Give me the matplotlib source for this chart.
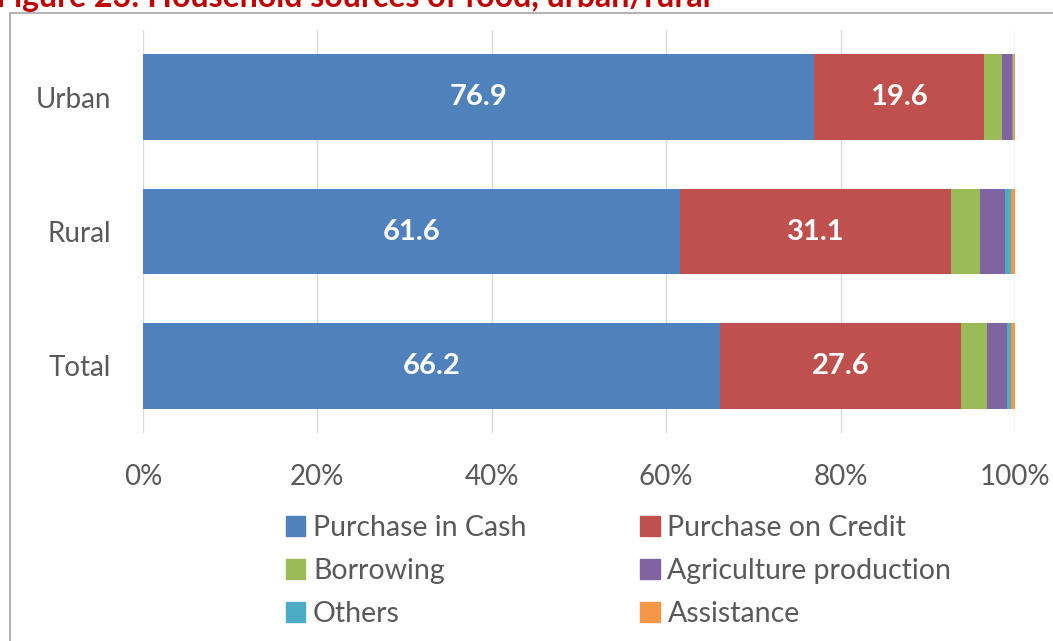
import numpy as np
import matplotlib.pyplot as plt
from matplotlib.patches import Rectangle, Patch
from matplotlib.ticker import FuncFormatter

plt.rcParams['font.family'] = ['Lato', 'DejaVu Sans']

areas = ["Urban", "Rural", "Total"]
series = ["Purchase in Cash", "Purchase on Credit", "Borrowing",
          "Agriculture production", "Others", "Assistance"]
cash = [76.9, 61.6, 66.2]
credit = [19.6, 31.1, 27.6]
borrowing = [2.0, 3.3, 3.0]
agri = [1.1, 2.8, 2.3]
others = [0.2, 0.7, 0.4]
assistance = [0.2, 0.5, 0.5]
colors = ["#4F81BD", "#C0504D", "#9BBB59", "#8064A2", "#4BACC6", "#F79646"]

data = np.array([cash, credit, borrowing, agri, others, assistance])
data = data / data.sum(axis=0) * 100

fig = plt.figure(figsize=(10.53, 6.41), dpi=100)
fig.patches.append(Rectangle((10/1053, -0.1), 1.2, 1 - 13/641 + 0.1,
                             transform=fig.transFigure, fill=False,
                             edgecolor="#A6A6A6", linewidth=1.2))
# title is cropped at the top in the reference
fig.text(-0.004, 1 - 7/641, "Figure 23: Household sources of food, urban/rural",
         color="#C00000", fontsize=23, fontweight="bold", va="baseline")

ax = fig.add_axes([143/1053, 1 - 433/641, 872/1053, 403/641])
y = np.arange(len(areas))
left = np.zeros(len(areas))
for i, vals in enumerate(data):
    ax.barh(y, vals, left=left, height=0.64, color=colors[i], label=series[i], zorder=3)
    left += vals

for i, v in enumerate(cash):
    ax.text(data[0][i] / 2, y[i], f"{v:.1f}", color="white", fontsize=21,
            fontweight="bold", ha="center", va="center", zorder=4)
for i, v in enumerate(credit):
    ax.text(data[0][i] + data[1][i] / 2, y[i], f"{v:.1f}", color="white", fontsize=21,
            fontweight="bold", ha="center", va="center", zorder=4)

ax.set_xlim(0, 100)
ax.set_ylim(2.5, -0.5)
ax.set_yticks(y)
ax.set_yticklabels(areas)
ax.set_xticks(np.arange(0, 101, 20))
ax.xaxis.set_major_formatter(FuncFormatter(lambda v, p: f"{v:.0f}%"))
ax.tick_params(length=0, labelsize=20, labelcolor="#595959")
ax.tick_params(axis="x", pad=22)
ax.tick_params(axis="y", pad=23)
ax.grid(axis="x", color="#D9D9D9", linewidth=1, zorder=0)
for s in ax.spines.values():
    s.set_visible(False)

order = [0, 2, 4, 1, 3, 5]
handles = [Patch(color=colors[i]) for i in order]
labels = [series[i] for i in order]
fig.legend(handles, labels, ncol=2, loc="upper left", bbox_to_anchor=(286/1053, 1 - 515/641),
           frameon=False, fontsize=20.5, labelcolor="#595959", handlelength=0.67,
           handleheight=0.67, handletextpad=0.28, columnspacing=4.0, labelspacing=0.6,
           borderpad=0, borderaxespad=0)

fig.savefig("out.png", dpi=100)
